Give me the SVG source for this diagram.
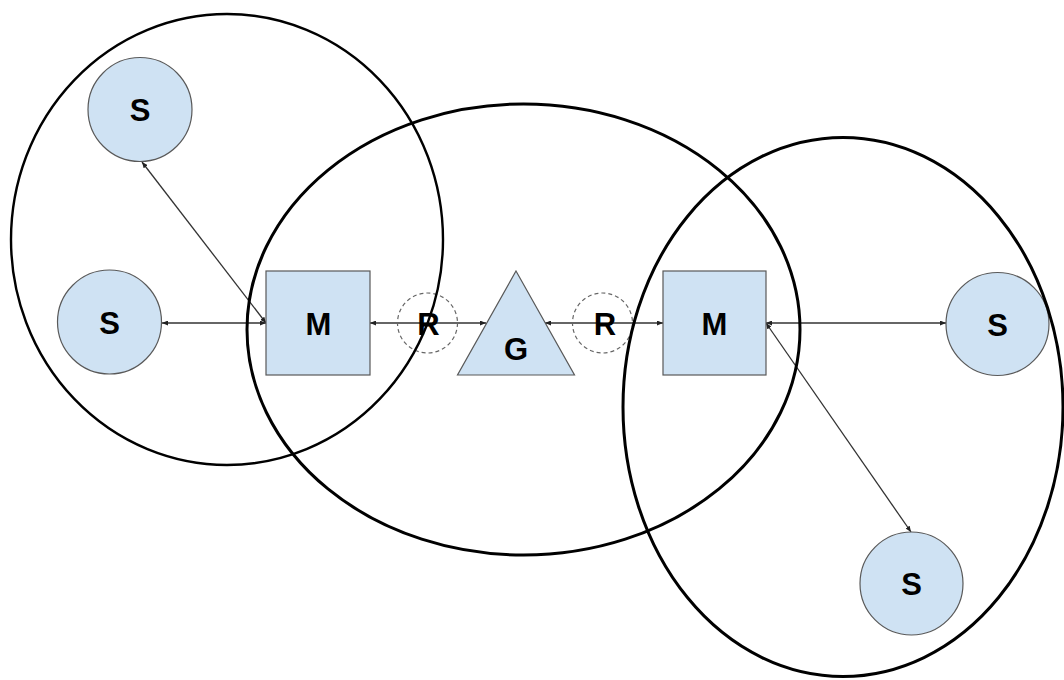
<svg xmlns="http://www.w3.org/2000/svg" width="1064" height="680" viewBox="0 0 1064 680">
<defs>
<style>
.node{fill:#cfe2f3;stroke:#595959;stroke-width:1.2}
.lbl{font-family:"Liberation Sans",Arial,sans-serif;font-weight:bold;font-size:31px;fill:#000;text-anchor:middle}
.zone{fill:none;stroke:#000;stroke-width:3}
.relay{fill:none;stroke:#666;stroke-width:1.2;stroke-dasharray:4 3}
.conn{fill:none;stroke:#333;stroke-width:1.3;marker-start:url(#ah);marker-end:url(#ah)}
</style>
<marker id="ah" viewBox="0 0 6 5" refX="6" refY="2.5" markerWidth="6" markerHeight="5" markerUnits="userSpaceOnUse" orient="auto-start-reverse">
<path d="M0,0 L6,2.5 L0,5 z" fill="#222"/>
</marker>
</defs>
<rect width="1064" height="680" fill="#fff"/>
<g id="connectors">
<line class="conn" x1="162" y1="323" x2="266" y2="323"/>
<line class="conn" x1="142" y1="162" x2="266" y2="323"/>
<line class="conn" x1="370" y1="323" x2="486" y2="323"/>
<line class="conn" x1="545" y1="323" x2="663" y2="323"/>
<line class="conn" x1="766" y1="323" x2="946" y2="323"/>
<line class="conn" x1="766" y1="323" x2="911" y2="532"/>
</g>
<g id="s1"><circle class="node" cx="140" cy="109.5" r="52"/><text class="lbl" x="140" y="121">S</text></g>
<g id="s2"><circle class="node" cx="109.5" cy="322" r="52"/><text class="lbl" x="109.5" y="334">S</text></g>
<g id="m1"><rect class="node" x="266" y="271" width="104" height="104"/><text class="lbl" x="318.5" y="335">M</text></g>
<g id="r1"><circle class="relay" cx="427.5" cy="323" r="30"/><text class="lbl" x="428.5" y="335">R</text></g>
<g id="g"><polygon class="node" points="516,271 574.5,375 457.5,375"/><text class="lbl" x="516" y="360">G</text></g>
<g id="r2"><circle class="relay" cx="602.5" cy="323" r="30"/><text class="lbl" x="605" y="335">R</text></g>
<g id="m2"><rect class="node" x="663" y="271" width="103" height="104"/><text class="lbl" x="714.5" y="335">M</text></g>
<g id="s3"><circle class="node" cx="997.5" cy="324" r="51.5"/><text class="lbl" x="997.5" y="336">S</text></g>
<g id="s4"><circle class="node" cx="911.5" cy="583.5" r="51.5"/><text class="lbl" x="911.5" y="595">S</text></g>
<g id="zones">
<ellipse class="zone" cx="227" cy="239.5" rx="216" ry="225.5" style="stroke-width:2.4"/>
<ellipse class="zone" cx="523.5" cy="329.5" rx="276.5" ry="225.5"/>
<ellipse class="zone" cx="843" cy="407" rx="220" ry="269.5"/>
</g>
</svg>
